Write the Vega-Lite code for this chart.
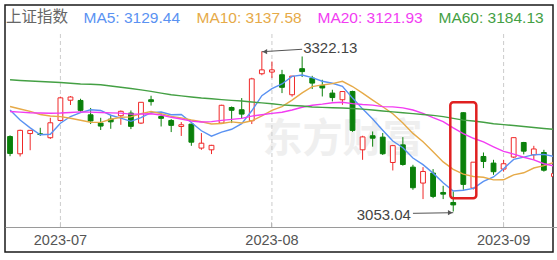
{
  "$schema": "https://vega.github.io/schema/vega-lite/v6.json",
  "width": 548,
  "height": 247,
  "autosize": {"type": "none"},
  "padding": {"left": 5, "top": 5, "right": 4, "bottom": 8},
  "background": "white",
  "config": {"view": {"stroke": "#1a1a1a", "strokeWidth": 1.5}, "font": "Liberation Sans"},
  "datasets": {
    "k": [
      {"d":"2023-06-26","o":3179,"h":3181,"l":3146,"c":3150.6,"MA5":3223.6,"MA10":3229.4,"MA20":3221,"MA60":3274.3},
      {"d":"2023-06-27","o":3150,"h":3190.5,"l":3145.5,"c":3189.4,"MA5":3206.8,"MA10":3225.2,"MA20":3220,"MA60":3273.2},
      {"d":"2023-06-28","o":3184,"h":3190,"l":3156,"c":3189.4,"MA5":3193.5,"MA10":3221.3,"MA20":3219,"MA60":3272.2},
      {"d":"2023-06-29","o":3183.6,"h":3193.7,"l":3180,"c":3182.4,"MA5":3181.9,"MA10":3216.1,"MA20":3218.5,"MA60":3271.5},
      {"d":"2023-06-30","o":3177,"h":3210.5,"l":3175,"c":3202.1,"MA5":3182.8,"MA10":3213.5,"MA20":3218,"MA60":3270.7},
      {"d":"2023-07-03","o":3206,"h":3246,"l":3205,"c":3244,"MA5":3201.4,"MA10":3212.5,"MA20":3218.5,"MA60":3269.9},
      {"d":"2023-07-04","o":3240,"h":3247,"l":3232,"c":3245.4,"MA5":3212.6,"MA10":3209.7,"MA20":3219.5,"MA60":3268.5},
      {"d":"2023-07-05","o":3239.6,"h":3242.5,"l":3219,"c":3223,"MA5":3219.3,"MA10":3206.4,"MA20":3220.5,"MA60":3267.2},
      {"d":"2023-07-06","o":3215.5,"h":3227,"l":3200,"c":3205.2,"MA5":3223.9,"MA10":3202.9,"MA20":3220,"MA60":3266.9},
      {"d":"2023-07-07","o":3201.6,"h":3210.5,"l":3190,"c":3196.6,"MA5":3222.8,"MA10":3202.8,"MA20":3219.5,"MA60":3266},
      {"d":"2023-07-10","o":3208.3,"h":3215.5,"l":3192,"c":3203.7,"MA5":3214.8,"MA10":3208.1,"MA20":3218.8,"MA60":3263.9},
      {"d":"2023-07-11","o":3213.9,"h":3222.8,"l":3198.7,"c":3221.4,"MA5":3210.0,"MA10":3211.3,"MA20":3218.3,"MA60":3261.8},
      {"d":"2023-07-12","o":3218.4,"h":3222.8,"l":3191.5,"c":3196.1,"MA5":3204.6,"MA10":3212.0,"MA20":3216.7,"MA60":3259.7},
      {"d":"2023-07-13","o":3201.6,"h":3236.9,"l":3200,"c":3236.5,"MA5":3210.9,"MA10":3217.4,"MA20":3216.8,"MA60":3257.4},
      {"d":"2023-07-14","o":3240.8,"h":3247.5,"l":3231,"c":3237.7,"MA5":3219.1,"MA10":3221.0,"MA20":3217.3,"MA60":3254.8},
      {"d":"2023-07-17","o":3212.7,"h":3217,"l":3195.9,"c":3209.6,"MA5":3220.3,"MA10":3217.6,"MA20":3215.1,"MA60":3252.0},
      {"d":"2023-07-18","o":3206,"h":3208.3,"l":3186.5,"c":3197.8,"MA5":3215.6,"MA10":3212.8,"MA20":3211.3,"MA60":3249.3},
      {"d":"2023-07-19","o":3195.9,"h":3203.3,"l":3180,"c":3198.8,"MA5":3216.1,"MA10":3210.4,"MA20":3208.4,"MA60":3247.3},
      {"d":"2023-07-20","o":3199.9,"h":3200.5,"l":3163.4,"c":3169.5,"MA5":3202.7,"MA10":3206.8,"MA20":3204.9,"MA60":3245.5},
      {"d":"2023-07-21","o":3159.6,"h":3184.8,"l":3156.7,"c":3167.8,"MA5":3188.7,"MA10":3203.9,"MA20":3203.4,"MA60":3243.8},
      {"d":"2023-07-24","o":3156.7,"h":3165,"l":3149.5,"c":3164.2,"MA5":3179.6,"MA10":3200.0,"MA20":3204.1,"MA60":3242.5},
      {"d":"2023-07-25","o":3201.6,"h":3232.4,"l":3201,"c":3231.5,"MA5":3186.4,"MA10":3201.0,"MA20":3206.2,"MA60":3241},
      {"d":"2023-07-26","o":3227.8,"h":3229.5,"l":3201.6,"c":3223.1,"MA5":3191.2,"MA10":3203.7,"MA20":3207.9,"MA60":3239.8},
      {"d":"2023-07-27","o":3224,"h":3243.6,"l":3210,"c":3216.7,"MA5":3200.6,"MA10":3201.7,"MA20":3209.6,"MA60":3238.7},
      {"d":"2023-07-28","o":3205.5,"h":3277.7,"l":3200,"c":3275.9,"MA5":3222.3,"MA10":3205.5,"MA20":3213.3,"MA60":3237},
      {"d":"2023-07-31","o":3284.5,"h":3322.13,"l":3282,"c":3291,"MA5":3247.7,"MA10":3213.7,"MA20":3215.7,"MA60":3235.5},
      {"d":"2023-08-01","o":3287.3,"h":3305,"l":3277.2,"c":3291,"MA5":3259.5,"MA10":3223.0,"MA20":3217.9,"MA60":3234},
      {"d":"2023-08-02","o":3282.8,"h":3291,"l":3252,"c":3261.7,"MA5":3267.3,"MA10":3229.3,"MA20":3219.9,"MA60":3232.2},
      {"d":"2023-08-03","o":3249.2,"h":3280.5,"l":3246,"c":3280.5,"MA5":3280.0,"MA10":3240.3,"MA20":3223.6,"MA60":3231.2},
      {"d":"2023-08-04","o":3293,"h":3313.5,"l":3279,"c":3288.1,"MA5":3282.4,"MA10":3252.4,"MA20":3228.2,"MA60":3230.3},
      {"d":"2023-08-07","o":3277.2,"h":3281,"l":3258.8,"c":3268.8,"MA5":3278.0,"MA10":3262.9,"MA20":3231.5,"MA60":3228.6},
      {"d":"2023-08-08","o":3264.5,"h":3274.4,"l":3246.3,"c":3260.6,"MA5":3271.9,"MA10":3265.7,"MA20":3233.4,"MA60":3228},
      {"d":"2023-08-09","o":3252,"h":3257.6,"l":3238,"c":3244.5,"MA5":3268.5,"MA10":3267.9,"MA20":3235.8,"MA60":3227.4},
      {"d":"2023-08-10","o":3240.8,"h":3254.7,"l":3232.4,"c":3254.6,"MA5":3263.3,"MA10":3271.7,"MA20":3236.7,"MA60":3226.9},
      {"d":"2023-08-11","o":3254.7,"h":3256,"l":3187,"c":3189.3,"MA5":3243.6,"MA10":3263.0,"MA20":3234.3,"MA60":3226},
      {"d":"2023-08-14","o":3156.7,"h":3180.3,"l":3139.9,"c":3178.4,"MA5":3225.5,"MA10":3251.8,"MA20":3232.8,"MA60":3225},
      {"d":"2023-08-15","o":3180.3,"h":3187.5,"l":3162,"c":3176.2,"MA5":3208.6,"MA10":3240.3,"MA20":3231.7,"MA60":3223.5},
      {"d":"2023-08-16","o":3178,"h":3185,"l":3148,"c":3150.1,"MA5":3189.7,"MA10":3229.1,"MA20":3229.2,"MA60":3222},
      {"d":"2023-08-17","o":3135.4,"h":3165,"l":3122,"c":3163.7,"MA5":3171.5,"MA10":3217.4,"MA20":3228.9,"MA60":3220.5},
      {"d":"2023-08-18","o":3165,"h":3178,"l":3130,"c":3132,"MA5":3160.1,"MA10":3201.9,"MA20":3227.2,"MA60":3219},
      {"d":"2023-08-21","o":3127.6,"h":3131.5,"l":3089.5,"c":3093,"MA5":3143.0,"MA10":3184.3,"MA20":3223.6,"MA60":3217.5},
      {"d":"2023-08-22","o":3100.8,"h":3127.6,"l":3073.9,"c":3120.3,"MA5":3131.8,"MA10":3170.2,"MA20":3218.0,"MA60":3216},
      {"d":"2023-08-23","o":3117.6,"h":3124.3,"l":3075.5,"c":3078.4,"MA5":3117.5,"MA10":3153.6,"MA20":3210.8,"MA60":3214.5},
      {"d":"2023-08-24","o":3085,"h":3096.2,"l":3073.9,"c":3082.2,"MA5":3101.2,"MA10":3136.4,"MA20":3204.1,"MA60":3212.5},
      {"d":"2023-08-25","o":3068.2,"h":3086.6,"l":3053.04,"c":3064.1,"MA5":3087.6,"MA10":3123.9,"MA20":3193.5,"MA60":3209.5},
      {"d":"2023-08-28","o":3219,"h":3219.9,"l":3089.5,"c":3098.6,"MA5":3088.7,"MA10":3115.9,"MA20":3183.9,"MA60":3206.5},
      {"d":"2023-08-29","o":3092.4,"h":3136,"l":3090,"c":3135.9,"MA5":3091.8,"MA10":3111.8,"MA20":3176.1,"MA60":3205},
      {"d":"2023-08-30","o":3145.5,"h":3152.2,"l":3126,"c":3137.1,"MA5":3103.6,"MA10":3110.6,"MA20":3169.9,"MA60":3203},
      {"d":"2023-08-31","o":3134.4,"h":3139.9,"l":3114.7,"c":3119.9,"MA5":3111.1,"MA10":3106.2,"MA20":3161.8,"MA60":3200.5},
      {"d":"2023-09-01","o":3124.3,"h":3139.9,"l":3120,"c":3133.3,"MA5":3125.0,"MA10":3106.3,"MA20":3154.1,"MA60":3199},
      {"d":"2023-09-04","o":3144.5,"h":3177.5,"l":3143,"c":3177.1,"MA5":3140.6,"MA10":3114.7,"MA20":3149.5,"MA60":3197.5},
      {"d":"2023-09-05","o":3169,"h":3170,"l":3149,"c":3154.4,"MA5":3144.3,"MA10":3118.1,"MA20":3144.2,"MA60":3195.8},
      {"d":"2023-09-06","o":3148.3,"h":3163.4,"l":3139.9,"c":3158.1,"MA5":3148.5,"MA10":3126.1,"MA20":3139.9,"MA60":3194.2},
      {"d":"2023-09-07","o":3152.2,"h":3156.7,"l":3120,"c":3122.4,"MA5":3149.0,"MA10":3130.1,"MA20":3133.3,"MA60":3192.5},
      {"d":"2023-09-08","o":3112,"h":3127,"l":3105,"c":3116.7,"MA5":3145.7,"MA10":3135.4,"MA20":3129.7,"MA60":3191}
    ],
    "ann": [
      {"g":"hi","end":"tip","d":"2023-07-31","v":3321.5,"t":""},
      {"g":"hi","end":"tail","d":"2023-08-04","v":3325.6,"t":"3322.13"},
      {"g":"lo","end":"tip","d":"2023-08-25","v":3051,"t":""},
      {"g":"lo","end":"tail","d":"2023-08-21","v":3050,"t":"3053.04"}
    ],
    "months": [
      {"d":"2023-07-03"},
      {"d":"2023-08-01"},
      {"d":"2023-09-01"}
    ],
    "wm": [
      {"d":"2023-08-10","v":3173,"t":"东方财富"}
    ]
  },
  "encoding": {
    "x": {
      "field": "d",
      "type": "ordinal",
      "scale": {"type": "band", "range": [0, 554], "paddingInner": 0, "paddingOuter": 0},
      "axis": {
        "values": ["2023-07-03", "2023-08-01", "2023-09-01"],
        "labelExpr": "slice(datum.value, 0, 7)",
        "title": null,
        "offset": -25,
        "domainColor": "#9a9a9a",
        "domainWidth": 1,
        "tickColor": "#9a9a9a",
        "tickSize": -5,
        "labelPadding": 11,
        "labelFontSize": 14.5,
        "labelColor": "#555555",
        "labelFont": "Liberation Sans",
        "labelAngle": 0,
        "labelFlush": false,
        "labelOverlap": false,
        "grid": false
      }
    }
  },
  "layer": [
    {
      "data": {"name": "wm"},
      "mark": {"type": "text", "font": "Noto Sans CJK SC", "fontSize": 40, "fontWeight": "bold", "fill": "#efefef", "baseline": "middle", "align": "center"},
      "encoding": {
        "y": {
          "field": "v",
          "type": "quantitative",
          "scale": {"domain": [2985, 3400], "nice": false, "zero": false},
          "axis": {
            "values": [3050, 3100, 3150, 3200, 3250, 3300],
            "grid": true,
            "gridDash": [4, 3],
            "gridColor": "#cccccc",
            "gridWidth": 1,
            "labels": false,
            "ticks": false,
            "domain": false,
            "title": null
          }
        },
        "text": {"field": "t"}
      }
    },
    {
      "data": {"name": "months"},
      "mark": {"type": "rule", "strokeDash": [4, 3], "color": "#cccccc", "strokeWidth": 1},
      "encoding": {
        "y": {"datum": 3027, "type": "quantitative", "axis": null},
        "y2": {"datum": 3355}
      }
    },
    {
      "data": {"name": "k"},
      "mark": {"type": "rule", "strokeWidth": 1, "clip": true},
      "encoding": {
        "y": {"field": "l", "type": "quantitative", "axis": null},
        "y2": {"field": "h"},
        "stroke": {"condition": {"test": "datum.c >= datum.o", "value": "#f02828"}, "value": "#0a800a"}
      }
    },
    {
      "data": {"name": "k"},
      "mark": {"type": "bar", "width": 4.8, "strokeWidth": 1, "clip": true},
      "encoding": {
        "y": {"field": "o", "type": "quantitative", "axis": null},
        "y2": {"field": "c"},
        "fill": {"condition": {"test": "datum.c >= datum.o", "value": "#ffffff"}, "value": "#0a800a"},
        "stroke": {"condition": {"test": "datum.c >= datum.o", "value": "#f02828"}, "value": "#0a800a"}
      }
    },
    {
      "data": {"name": "k"},
      "transform": [{"fold": ["MA5", "MA10", "MA20", "MA60"], "as": ["series", "v"]}],
      "mark": {"type": "line", "strokeWidth": 1.4, "clip": true},
      "encoding": {
        "y": {"field": "v", "type": "quantitative", "axis": null},
        "color": {
          "field": "series",
          "type": "nominal",
          "scale": {
            "domain": ["MA5", "MA10", "MA20", "MA60"],
            "range": ["#5a92f2", "#e6aa48", "#f23cf2", "#44a044"]
          },
          "legend": {
            "orient": "none",
            "legendX": 1,
            "legendY": 5,
            "direction": "horizontal",
            "title": "上证指数",
            "titleOrient": "left",
            "titleAnchor": "start",
            "titleBaseline": "top",
            "titleColor": "#666666",
            "titleFont": "Noto Sans CJK SC",
            "titleFontSize": 15.5,
            "titleFontWeight": "normal",
            "titlePadding": -1,
            "symbolSize": 0,
            "symbolOpacity": 0,
            "symbolStrokeWidth": 0,
            "labelOffset": 0,
            "columnPadding": -3,
            "padding": 0,
            "labelFontSize": 15.5,
            "labelFont": "Liberation Sans",
            "labelLimit": 0,
            "labelExpr": "datum.value == 'MA5' ? 'MA5: 3129.44' : datum.value == 'MA10' ? 'MA10: 3137.58' : datum.value == 'MA20' ? 'MA20: 3121.93' : 'MA60: 3184.13'",
            "encode": {"labels": {"update": {"fill": {"scale": "color", "field": "value"}}}}
          }
        }
      }
    },
    {
      "data": {"name": "k"},
      "transform": [{"filter": "datum.d == '2023-08-28'"}],
      "mark": {"type": "bar", "width": 26, "fillOpacity": 0, "stroke": "#e02020", "strokeWidth": 2.5, "cornerRadius": 3, "yOffset": -10, "y2Offset": 8.5},
      "encoding": {
        "y": {"field": "h", "type": "quantitative", "axis": null},
        "y2": {"field": "l"}
      }
    },
    {
      "data": {"name": "ann"},
      "mark": {"type": "line", "color": "#555555", "strokeWidth": 1},
      "encoding": {
        "y": {"field": "v", "type": "quantitative", "axis": null},
        "detail": {"field": "g"}
      }
    },
    {
      "data": {"name": "ann"},
      "transform": [{"filter": "datum.end == 'tip' && datum.g == 'hi'"}],
      "mark": {"type": "point", "shape": "triangle-left", "filled": true, "size": 28, "color": "#555555", "opacity": 1, "xOffset": 3},
      "encoding": {"y": {"field": "v", "type": "quantitative", "axis": null}}
    },
    {
      "data": {"name": "ann"},
      "transform": [{"filter": "datum.end == 'tip' && datum.g == 'lo'"}],
      "mark": {"type": "point", "shape": "triangle-right", "filled": true, "size": 28, "color": "#555555", "opacity": 1, "xOffset": -3},
      "encoding": {"y": {"field": "v", "type": "quantitative", "axis": null}}
    },
    {
      "data": {"name": "ann"},
      "transform": [{"filter": "datum.end == 'tail' && datum.g == 'hi'"}],
      "mark": {"type": "text", "align": "left", "baseline": "middle", "dx": 1, "dy": -1, "fontSize": 15, "fill": "#444444", "font": "Liberation Sans"},
      "encoding": {"y": {"field": "v", "type": "quantitative", "axis": null}, "text": {"field": "t"}}
    },
    {
      "data": {"name": "ann"},
      "transform": [{"filter": "datum.end == 'tail' && datum.g == 'lo'"}],
      "mark": {"type": "text", "align": "right", "baseline": "middle", "dx": -2, "dy": 2, "fontSize": 15, "fill": "#444444", "font": "Liberation Sans"},
      "encoding": {"y": {"field": "v", "type": "quantitative", "axis": null}, "text": {"field": "t"}}
    }
  ]
}
